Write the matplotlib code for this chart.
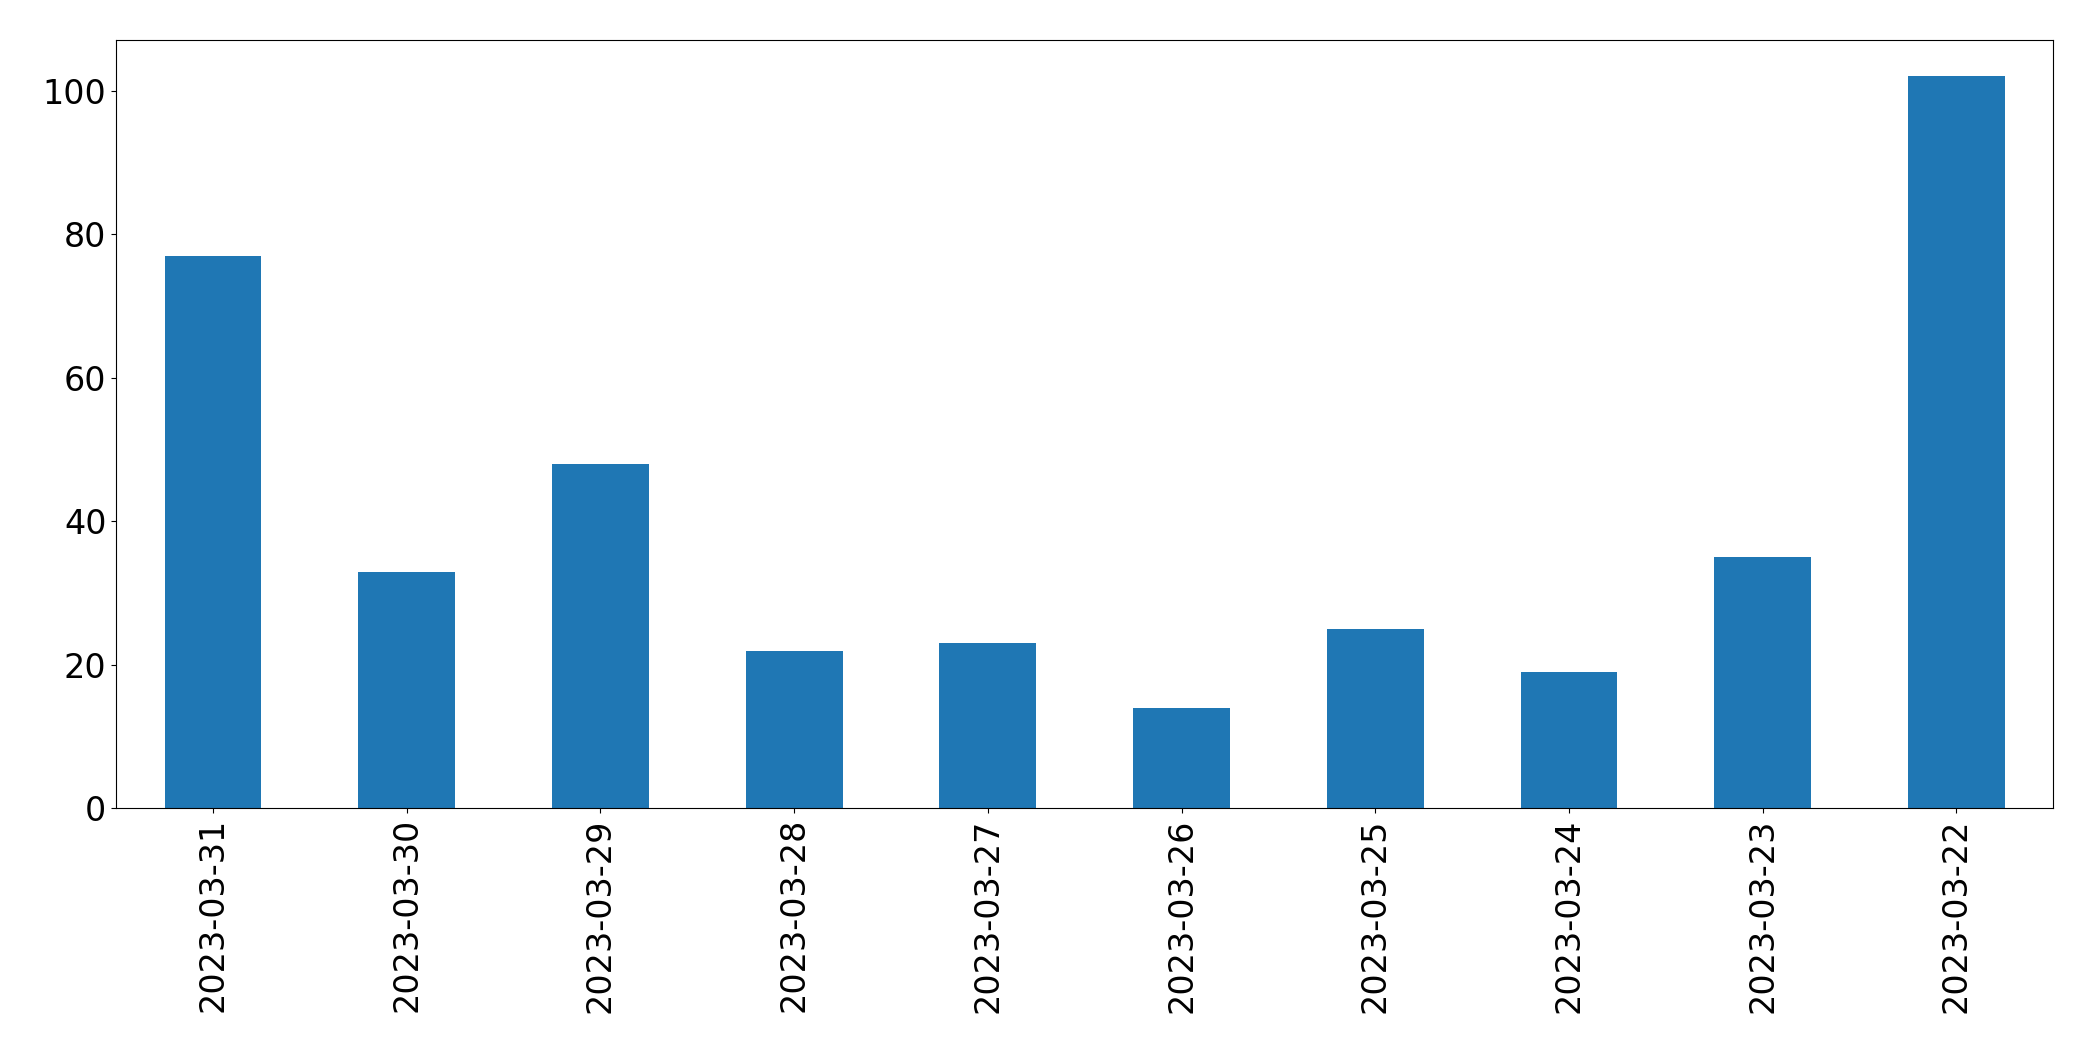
import pandas as pd
from matplotlib import pyplot as plt

dates = ['2023-03-31', '2023-03-30', '2023-03-29', '2023-03-28', '2023-03-27',
         '2023-03-26', '2023-03-25', '2023-03-24', '2023-03-23', '2023-03-22']
counts = [77, 33, 48, 22, 23, 14, 25, 19, 35, 102]

series = pd.Series(counts, index=dates)

fig, ax = plt.subplots(figsize=(20.93, 10.61), dpi=100)
series.plot.bar(ax=ax, color='#1f77b4', width=0.5)
ax.tick_params(axis='both', labelsize=24)
ax.set_ylim(0, 107)
fig.subplots_adjust(left=0.0555, right=0.981, top=0.962, bottom=0.238)
fig.savefig('out.png')
